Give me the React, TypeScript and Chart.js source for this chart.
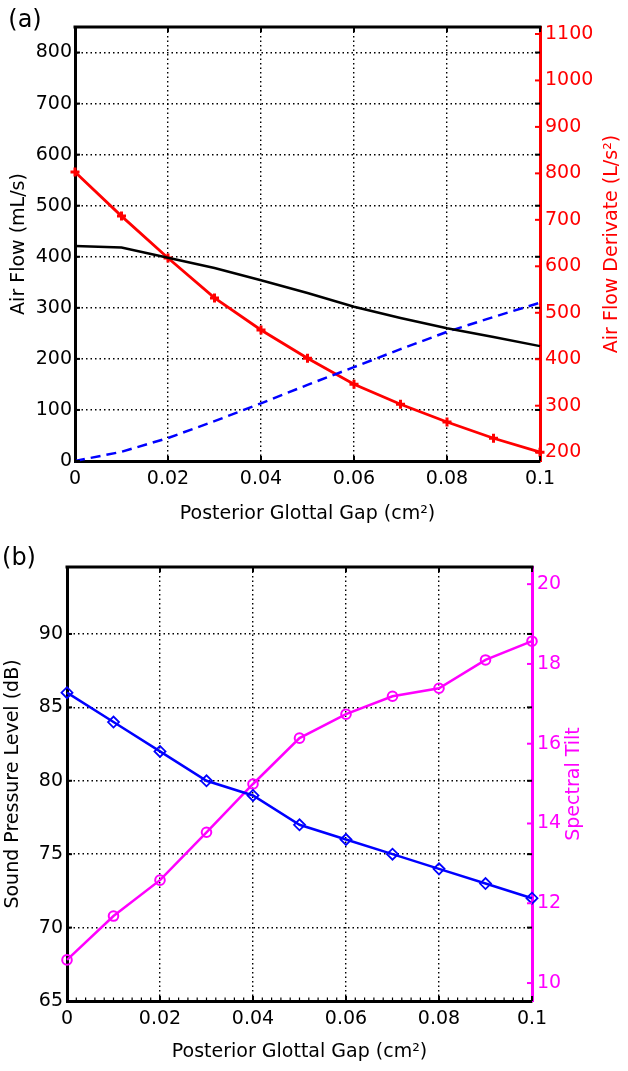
import React, { useEffect, useRef } from "react";
import { Chart, registerables } from "chart.js";

Chart.register(...registerables);

const FONT = "'DejaVu Sans', 'Liberation Sans', sans-serif";
Chart.defaults.font.family = FONT;
Chart.defaults.color = "#000";

// ---------- data ----------
const gapValues = [0, 0.01, 0.02, 0.03, 0.04, 0.05, 0.06, 0.07, 0.08, 0.09, 0.1];
const xTickValues = [0, 0.02, 0.04, 0.06, 0.08, 0.1];
const xTickLabels = ["0", "0.02", "0.04", "0.06", "0.08", "0.1"];

// panel (a)
const airFlowValues = [421, 418, 398, 378, 354, 329, 302, 280, 260, 243, 225];
const acFlowValues = [0, 18, 45, 78, 113, 149, 184, 219, 253, 282, 310];
const flowDerivativeValues = [803, 708, 618, 532, 463, 402, 346, 303, 265, 230, 200];

// panel (b)
const splValues = [86, 84, 82, 80, 79, 77, 76, 75, 74, 73, 72];
const spectralTiltValues = [10.58, 11.68, 12.58, 13.78, 14.99, 16.14, 16.74, 17.19, 17.39, 18.1, 18.57];

const toPoints = (ys: number[]) => gapValues.map((x, i) => ({ x, y: ys[i] }));

// ---------- decoration plugin (frame, inward ticks, right title, panel label) ----------
const decorPlugin = {
  id: "decor",
  afterDraw(chart: any, _args: any, opts: any) {
    const { ctx, chartArea, scales } = chart;
    const { left, right, top, bottom } = chartArea;
    const line = (x1: number, y1: number, x2: number, y2: number, color: string, w: number) => {
      ctx.strokeStyle = color;
      ctx.lineWidth = w;
      ctx.beginPath();
      ctx.moveTo(x1, y1);
      ctx.lineTo(x2, y2);
      ctx.stroke();
    };
    ctx.save();
    ctx.setLineDash([]);
    // top frame
    line(left - 1.5, top, right + 1.5, top, "#000", 3);
    // inward ticks on x
    const tl = 5;
    scales.x.ticks.forEach((t: any) => {
      const px = scales.x.getPixelForValue(t.value);
      line(px, bottom, px, bottom - tl, "#000", 2);
      line(px, top, px, top + tl, "#000", 2);
    });
    if (opts.minorTicks) {
      const n = 50;
      for (let i = 0; i <= n; i++) {
        const v = scales.x.min + (i * (scales.x.max - scales.x.min)) / n;
        const px = scales.x.getPixelForValue(v);
        line(px, bottom, px, bottom - 3.5, "#000", 1.2);
      }
    }
    scales.y.ticks.forEach((t: any) => {
      const py = scales.y.getPixelForValue(t.value);
      line(left, py, left + tl, py, "#000", 2);
      line(right, py, right - tl, py, "#000", 2);
    });
    scales.y2.ticks.forEach((t: any) => {
      const py = scales.y2.getPixelForValue(t.value);
      line(right, py, right - tl, py, opts.rightColor, 2);
    });
    // right axis title (reads bottom to top)
    ctx.save();
    ctx.fillStyle = opts.rightColor;
    ctx.font = `19px ${FONT}`;
    ctx.translate(opts.rightTitleX, (top + bottom) / 2);
    ctx.rotate(-Math.PI / 2);
    ctx.textAlign = "center";
    ctx.textBaseline = "middle";
    ctx.fillText(opts.rightTitle, 0, 0);
    ctx.restore();
    // panel label
    ctx.fillStyle = "#000";
    ctx.font = `24px ${FONT}`;
    ctx.textAlign = "center";
    ctx.textBaseline = "middle";
    ctx.fillText(opts.panelLabel, opts.panelX, opts.panelY);
    ctx.restore();
  },
};

const gridDash = [1.5, 3];

function xAxis(height: number, titlePad: number) {
  return {
    type: "linear",
    position: "bottom",
    min: 0,
    max: 0.1,
    afterBuildTicks: (s: any) => {
      s.ticks = xTickValues.map((v) => ({ value: v }));
    },
    ticks: {
      callback: (_v: any, i: number) => xTickLabels[i],
      font: { size: 19 },
      color: "#000",
      padding: 7,
      maxRotation: 0,
      autoSkip: false,
    },
    grid: { color: "#000", lineWidth: 1.4, drawTicks: false },
    border: { display: true, color: "#000", width: 3, dash: gridDash },
    title: {
      display: true,
      text: "Posterior Glottal Gap (cm²)",
      font: { size: 19 },
      color: "#000",
      padding: { top: 0, bottom: titlePad },
    },
    afterFit: (s: any) => {
      s.height = height;
    },
  };
}

function leftAxis(min: number, max: number, step: number, title: string, width: number, titlePad: number, tickPad: number) {
  return {
    type: "linear",
    position: "left",
    min,
    max,
    ticks: {
      stepSize: step,
      includeBounds: false,
      padding: tickPad,
      font: { size: 19 },
      color: "#000",
      callback: (v: any) => String(v),
    },
    grid: { color: "#000", lineWidth: 1.4, drawTicks: false },
    border: { display: true, color: "#000", width: 3, dash: gridDash },
    title: {
      display: true,
      text: title,
      font: { size: 19 },
      color: "#000",
      padding: { top: titlePad, bottom: 0 },
    },
    afterFit: (s: any) => {
      s.width = width;
    },
  };
}

function rightAxis(min: number, max: number, step: number, color: string, width: number) {
  return {
    type: "linear",
    position: "right",
    min,
    max,
    ticks: {
      stepSize: step,
      includeBounds: false,
      padding: 5,
      font: { size: 19 },
      color,
      callback: (v: any) => String(v),
    },
    grid: { drawOnChartArea: false, drawTicks: false },
    border: { display: true, color, width: 3 },
    afterFit: (s: any) => {
      s.width = width;
    },
  };
}

function topConfig(): any {
  return {
    type: "line",
    data: {
      datasets: [
        {
          label: "Air flow",
          data: toPoints(airFlowValues),
          yAxisID: "y",
          borderColor: "#000",
          borderWidth: 2.5,
          pointRadius: 0,
          tension: 0,
          clip: false,
        },
        {
          label: "AC flow",
          data: toPoints(acFlowValues),
          yAxisID: "y",
          borderColor: "#0000ff",
          borderWidth: 2.5,
          borderDash: [10, 6],
          pointRadius: 0,
          tension: 0,
          clip: false,
        },
        {
          label: "Air flow derivate",
          data: toPoints(flowDerivativeValues),
          yAxisID: "y2",
          borderColor: "#ff0000",
          borderWidth: 2.8,
          pointStyle: "cross",
          pointRadius: 4.5,
          pointBorderWidth: 3,
          pointBorderColor: "#ff0000",
          tension: 0,
          clip: false,
        },
      ],
    },
    options: {
      responsive: false,
      animation: false,
      layout: { padding: { top: 27, left: 0, right: 0, bottom: 0 } },
      plugins: {
        legend: { display: false },
        tooltip: { enabled: false },
        decor: {
          rightColor: "#ff0000",
          rightTitle: "Air Flow Derivate (L/s²)",
          rightTitleX: 612,
          panelLabel: "(a)",
          panelX: 25,
          panelY: 21,
          minorTicks: false,
        },
      },
      scales: {
        x: xAxis(69, 5),
        y: leftAxis(0, 850, 100, "Air Flow (mL/s)", 75, 8, 3),
        y2: rightAxis(181, 1115, 100, "#ff0000", 88),
      },
    },
    plugins: [decorPlugin],
  };
}

function bottomConfig(): any {
  return {
    type: "line",
    data: {
      datasets: [
        {
          label: "SPL",
          data: toPoints(splValues),
          yAxisID: "y",
          borderColor: "#0000ff",
          borderWidth: 2.5,
          pointStyle: "rectRot",
          pointRadius: 5.5,
          pointBorderWidth: 1.8,
          pointBorderColor: "#0000ff",
          pointBackgroundColor: "rgba(255,255,255,0)",
          tension: 0,
          clip: false,
        },
        {
          label: "Spectral tilt",
          data: toPoints(spectralTiltValues),
          yAxisID: "y2",
          borderColor: "#ff00ff",
          borderWidth: 2.5,
          pointStyle: "circle",
          pointRadius: 4.8,
          pointBorderWidth: 2,
          pointBorderColor: "#ff00ff",
          pointBackgroundColor: "rgba(255,255,255,0)",
          tension: 0,
          clip: false,
        },
      ],
    },
    options: {
      responsive: false,
      animation: false,
      layout: { padding: { top: 37, left: 0, right: 0, bottom: 0 } },
      plugins: {
        legend: { display: false },
        tooltip: { enabled: false },
        decor: {
          rightColor: "#ff00ff",
          rightTitle: "Spectral Tilt",
          rightTitleX: 574,
          panelLabel: "(b)",
          panelX: 19,
          panelY: 29,
          minorTicks: true,
        },
      },
      scales: {
        x: xAxis(70, 8),
        y: leftAxis(65, 94.56, 5, "Sound Pressure Level (dB)", 67, 2, 4),
        y2: rightAxis(9.55, 20.43, 2, "#ff00ff", 96),
      },
    },
    plugins: [decorPlugin],
  };
}

export default function App() {
  const topRef = useRef<HTMLCanvasElement>(null);
  const botRef = useRef<HTMLCanvasElement>(null);

  useEffect(() => {
    const c1 = new Chart(topRef.current as HTMLCanvasElement, topConfig());
    const c2 = new Chart(botRef.current as HTMLCanvasElement, bottomConfig());
    return () => {
      c1.destroy();
      c2.destroy();
    };
  }, []);

  return (
    <div style={{ position: "absolute", left: 0, top: 0, width: 628, height: 1071, background: "#fff" }}>
      <canvas ref={topRef} width={628} height={530} style={{ display: "block", width: 628, height: 530 }} />
      <canvas ref={botRef} width={628} height={541} style={{ display: "block", width: 628, height: 541 }} />
    </div>
  );
}
